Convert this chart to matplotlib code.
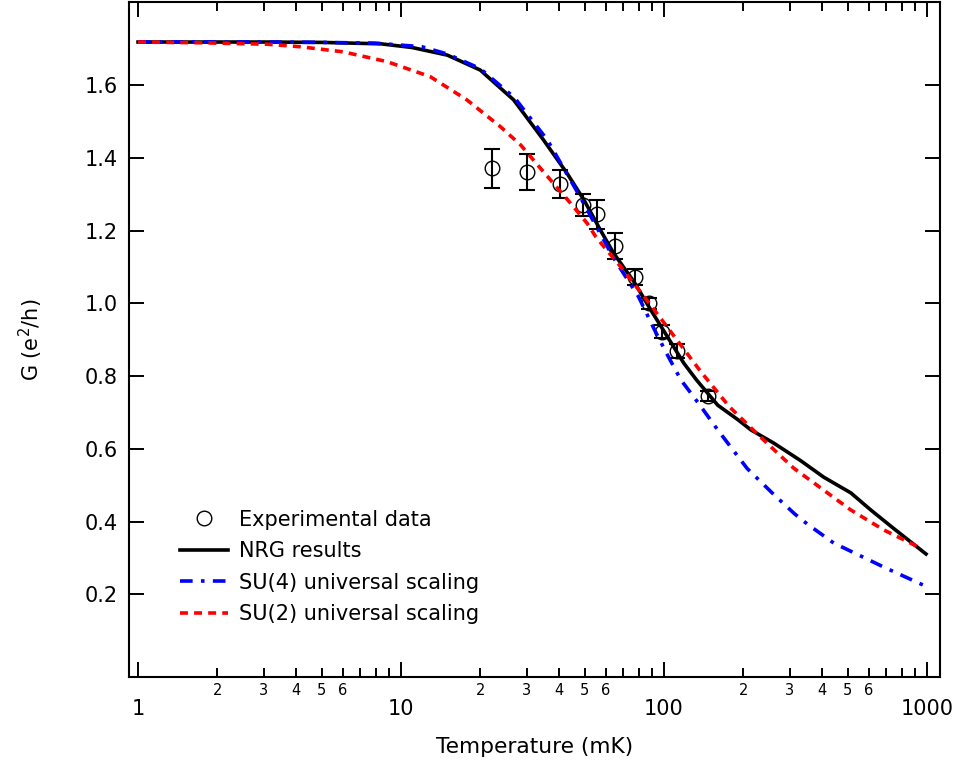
import numpy as np
import matplotlib
matplotlib.use("Agg")
import matplotlib.pyplot as plt
from matplotlib.ticker import LogLocator, FixedLocator, FuncFormatter

plt.rcParams['font.family'] = ['DejaVu Sans']

# experimental data (T in mK, G in e^2/h)
T_exp = [22.1, 30.2, 40.2, 49.3, 55.4, 64.9, 77.5, 87.6, 98.5, 111.7, 147]
G_exp = [1.371, 1.360, 1.327, 1.270, 1.245, 1.157, 1.073, 1.000, 0.922, 0.868, 0.745]
G_err = [0.054, 0.050, 0.038, 0.031, 0.040, 0.036, 0.022, 0.015, 0.017, 0.019, 0.014]

# NRG results
T_nrg = [1, 2, 3, 5, 8.4, 11, 15, 20, 26.8, 34.8, 42.8, 49.6, 57.4, 64.4, 76.9, 89,
         103, 119, 133, 160, 191, 214, 261, 330, 405, 513, 611, 750, 991]
G_nrg = [1.718, 1.718, 1.718, 1.717, 1.713, 1.703, 1.682, 1.641, 1.559, 1.449, 1.357,
         1.284, 1.200, 1.137, 1.059, 0.982, 0.908, 0.835, 0.789, 0.720, 0.680, 0.652,
         0.616, 0.568, 0.522, 0.479, 0.432, 0.380, 0.311]

# SU(4) universal scaling
T_su4 = [1, 2, 3, 5, 8, 12, 15, 20, 27, 36, 48, 64, 80, 92, 103, 116, 135, 160, 207,
         261, 314, 351, 442, 685, 964]
G_su4 = [1.718, 1.718, 1.718, 1.717, 1.715, 1.705, 1.685, 1.645, 1.565, 1.449, 1.292,
         1.127, 1.018, 0.927, 0.858, 0.789, 0.726, 0.652, 0.546, 0.475, 0.421, 0.393,
         0.341, 0.275, 0.226]

# SU(2) universal scaling
T_su2 = [1, 1.72, 3.1, 4.14, 6.03, 8.85, 12.9, 17.8, 23.9, 28.5, 33.9, 40.4, 44.1, 51,
         55, 59, 68.3, 89, 112, 138, 177, 233, 311, 513, 685, 948]
G_su2 = [1.718, 1.716, 1.712, 1.705, 1.691, 1.664, 1.623, 1.559, 1.485, 1.435, 1.371,
         1.307, 1.275, 1.220, 1.183, 1.156, 1.101, 0.995, 0.899, 0.812, 0.716, 0.632,
         0.547, 0.432, 0.377, 0.327]

fig = plt.figure(figsize=(9.59, 7.64), dpi=100)
ax = fig.add_axes([129/959, 87/764, 811/959, 675/764])

ax.errorbar(T_exp, G_exp, yerr=G_err, fmt='none', ecolor='black', elinewidth=1.5,
            capsize=5.5, capthick=1.5, zorder=2)
l0, = ax.plot(T_exp, G_exp, 'o', ms=10.5, mfc='none', mec='black', mew=1.0, zorder=2,
              label='Experimental data')
l1, = ax.plot(T_nrg, G_nrg, color='black', lw=2.6, zorder=3, label='NRG results')
l2, = ax.plot(T_su4, G_su4, color='blue', lw=2.6, dashes=(3.5, 2.3, 1.0, 2.3),
              zorder=4, label='SU(4) universal scaling')
l3, = ax.plot(T_su2, G_su2, color='red', lw=2.6, dashes=(2.2, 1.7), zorder=5,
              label='SU(2) universal scaling')

ax.set_xscale('log')
ax.set_xlim(0.924, 1120)
ax.set_ylim(-0.027, 1.828)

ax.xaxis.set_major_locator(FixedLocator([1, 10, 100, 1000]))
ax.xaxis.set_major_formatter(FuncFormatter(lambda v, p: '%d' % round(v)))
ax.xaxis.set_minor_locator(LogLocator(base=10, subs=np.arange(2, 10)))


def minor_fmt(v, p):
    m = int(round(v / 10 ** np.floor(np.log10(v) + 1e-9)))
    return str(m) if 2 <= m <= 6 else ''


ax.xaxis.set_minor_formatter(FuncFormatter(minor_fmt))
ax.set_yticks([0.2, 0.4, 0.6, 0.8, 1.0, 1.2, 1.4, 1.6])
ax.yaxis.set_major_formatter(FuncFormatter(lambda v, p: '%.1f' % v))

ax.tick_params(which='both', direction='in', top=True, right=True, width=1.4)
ax.tick_params(which='major', length=10.8)
ax.tick_params(which='minor', length=6.5)
ax.tick_params(axis='x', which='major', labelsize=15, pad=16)
ax.tick_params(axis='x', which='minor', labelsize=10.5, pad=4)
ax.tick_params(axis='y', labelsize=15, pad=8)
for s in ax.spines.values():
    s.set_linewidth(1.5)

ax.set_xlabel('Temperature (mK)', fontsize=15.7)
ax.set_ylabel('G (e$^2$/h)', fontsize=15)
ax.xaxis.set_label_coords(0.5, -0.089)
ax.yaxis.set_label_coords(-0.104, 0.5)

ax.legend(handles=[l0, l1, l2, l3], loc='lower left', bbox_to_anchor=(0.063, 0.0785),
          frameon=False, fontsize=15, handlelength=2.3, handletextpad=0.53,
          labelspacing=0.55, borderpad=0, borderaxespad=0)

fig.savefig('out.png', dpi=100)
